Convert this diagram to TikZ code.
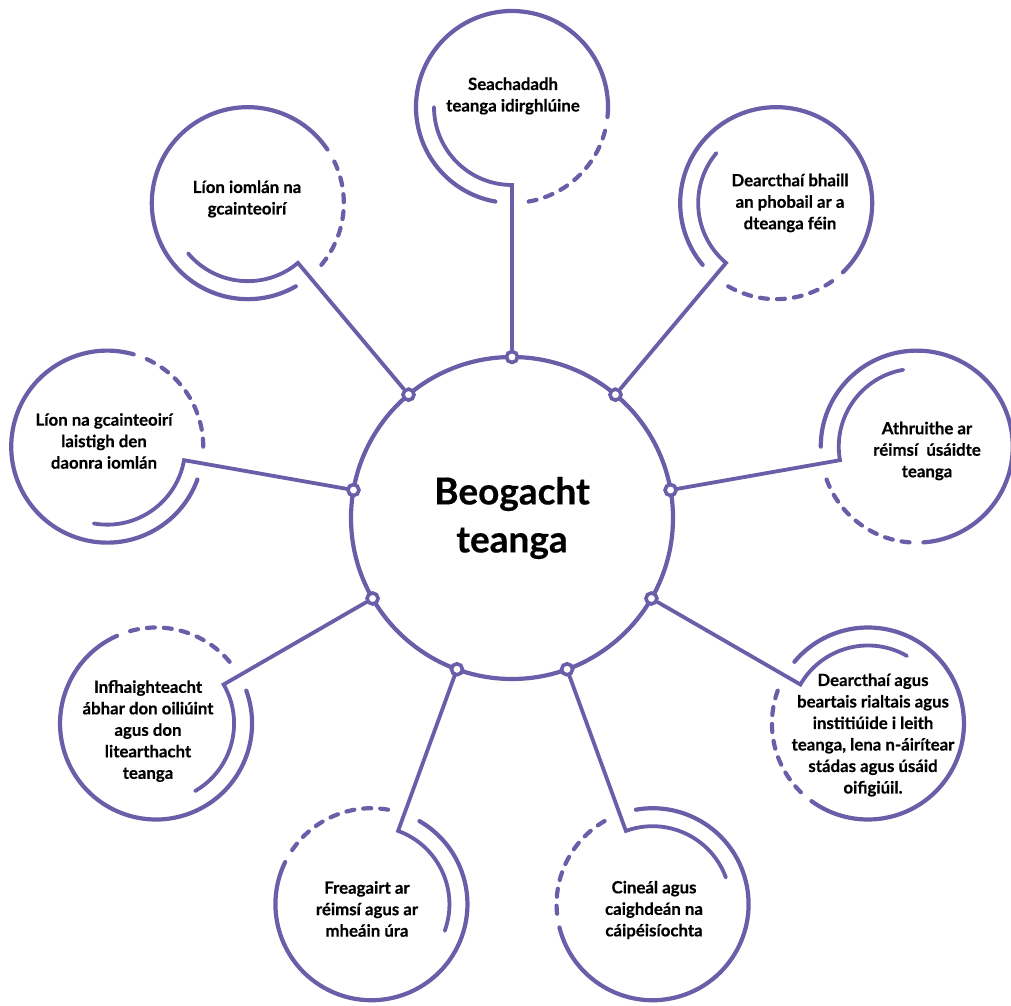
\documentclass[tikz,border=0pt]{standalone}
\usepackage{fontspec}
\setmainfont{Lato}[BoldFeatures={FakeBold=0.5}]
\usetikzlibrary{calc}
\definecolor{vio}{RGB}{107,94,168}
\begin{document}
\begin{tikzpicture}[x=1pt,y=1pt,
  line/.style={draw=vio,line width=4.2pt,line cap=round,line join=miter},
  stemline/.style={line,line width=3.8pt},
  dashline/.style={line,dash pattern=on 8pt off 9pt},
  knob/.style={circle,draw=vio,line width=3.6pt,fill=white,minimum size=11pt,inner sep=0pt},
  hubnode/.style={circle,draw=vio,line width=4.2pt,minimum size=322pt,inner sep=0pt,
    font=\bfseries\fontsize{37}{50}\selectfont,align=center},
  lbl/.style={font=\bfseries\fontsize{16.8}{21.5}\selectfont,align=center,text=black,inner sep=0pt}
]
\useasboundingbox (0,0) rectangle (1011,1005);
\node[hubnode] (hub) at (512,487) {Beogacht\\[-2pt]teanga};

\foreach \n/\t in {a/90,b/130,c/170,d/210,e/250,f/290,g/330,h/10,i/50}{
  \pgfmathsetmacro\p{\t+180}
  \coordinate (c\n) at ($(hub.center)+(\t:411pt)$);
  \node[knob] (k\n) at ($(hub.center)+(\t:161pt)$) {};
  \coordinate (s\n) at ($(c\n)+(\p:78pt)$);
  \draw[line] ($(c\n)+(\p+84:96pt)$) arc[start angle=\p+84, end angle=\p+350, radius=96pt];
  \draw[dashline] ($(c\n)+(\p+10:96pt)$) arc[start angle=\p+10, end angle=\p+80, radius=96pt];
  \draw[stemline] ($(c\n)+(\p-90:78pt)$) arc[start angle=\p-90, end angle=\p, radius=78pt] -- (k\n);
}

\node[lbl] (ta) at (513,909) {Seachadadh\\teanga idirghlúine};
\node[lbl] (tb) at (247,806) {Líon iomlán na\\gcainteoirí};
\node[lbl] (tc) at (104,564) {Líon na gcainteoirí\\laistigh den\\daonra iomlán};
\node[lbl] (td) at (148,274) {Infhaighteacht\\ábhar don oiliúint\\agus don\\litearthacht\\teanga};
\node[lbl] (te) at (367,96) {Freagairt ar\\réimsí agus ar\\mheáin úra};
\node[lbl] (tf) at (654,95) {Cineál agus\\caighdeán na\\cáipéisíochta};
\node[lbl] (tg) at (873,270) {Dearcthaí agus\\beartais rialtais agus\\institiúide i leith\\teanga, lena n-áirítear\\stádas agus úsáid\\oifigiúil.};
\node[lbl] (th) at (927,554) {Athruithe ar\\réimsí~ úsáidte\\teanga};
\node[lbl] (ti) at (790,802) {Dearcthaí bhaill\\an phobail ar a\\dteanga féin};
\end{tikzpicture}
\end{document}
